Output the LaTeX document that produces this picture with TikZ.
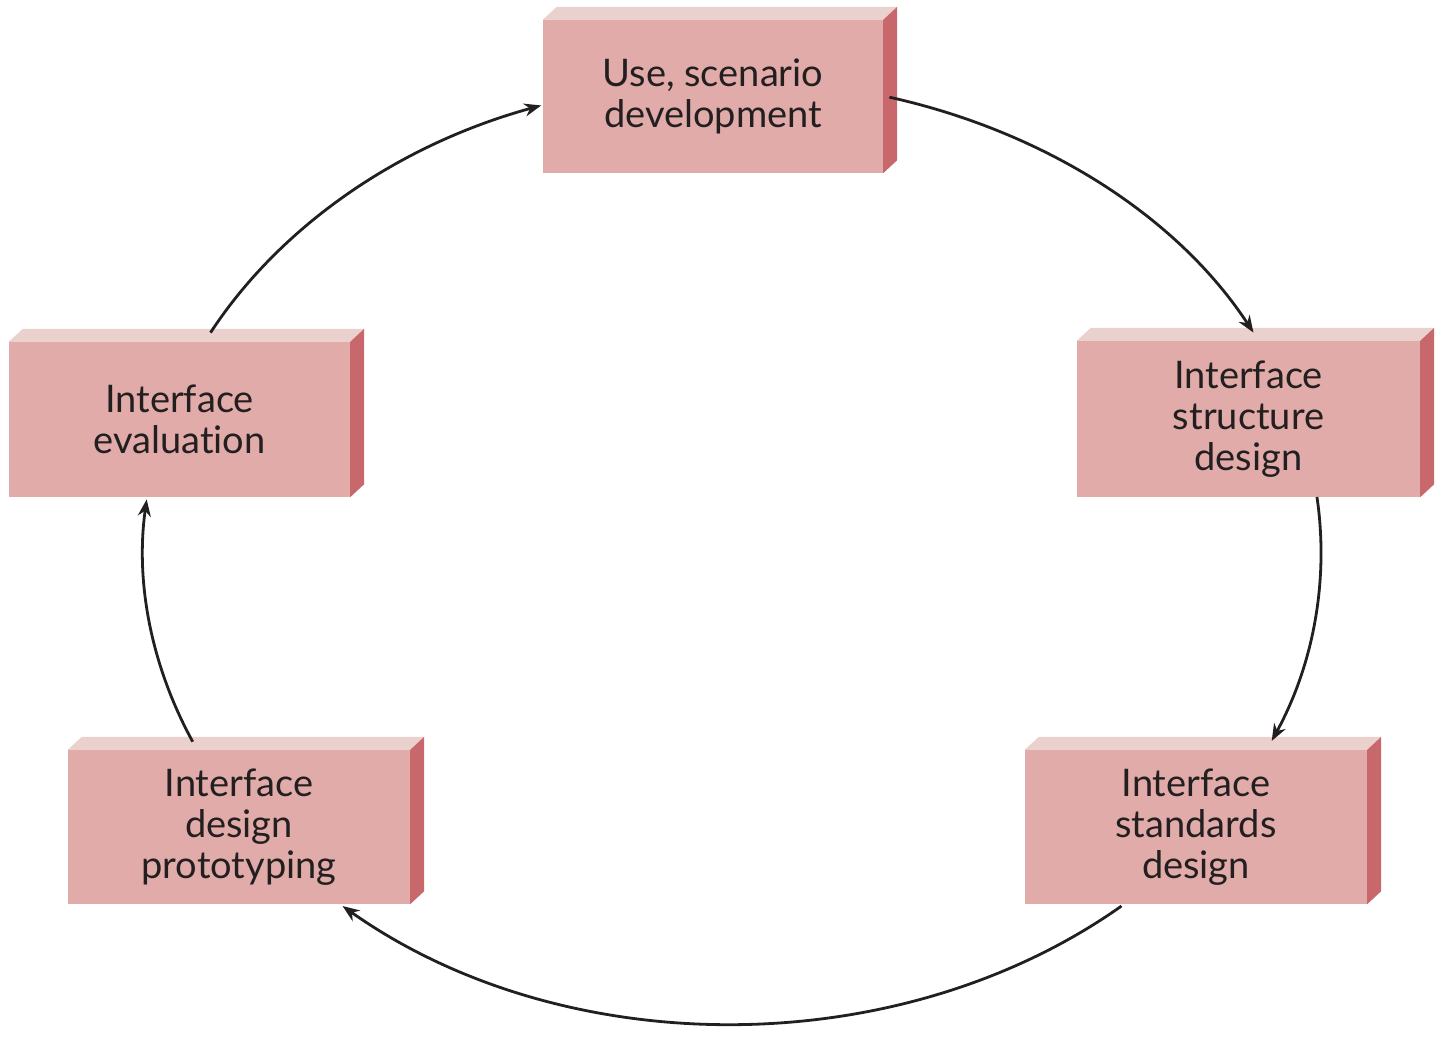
\documentclass[tikz,border=0pt]{standalone}
\usepackage{fontspec}
\setmainfont{Lato}[Ligatures={NoCommon}]
\usetikzlibrary{arrows.meta,calc}
\definecolor{boxfront}{HTML}{E0ABA8}
\definecolor{boxtop}{HTML}{EBD1CD}
\definecolor{boxside}{HTML}{C8686C}
\definecolor{ink}{HTML}{231F20}
\tikzset{
  stagebox/.style={fill=boxfront, draw=none, minimum width=341pt, minimum height=155pt,
    inner sep=0pt, align=center, text=ink,
    font=\fontsize{38}{41}\selectfont},
  flow/.style={draw=ink, line width=2.8pt, -{Stealth[length=17pt,width=13pt]}},
}
\newcommand{\boxfaces}[1]{%
  \fill[boxtop] (#1.north west) -- ++(14,13) -- ($(#1.north east)+(14,13)$) -- (#1.north east) -- cycle;
  \fill[boxside] (#1.north east) -- ++(14,13) -- ($(#1.south east)+(14,13)$) -- (#1.south east) -- cycle;
}
\begin{document}
\begin{tikzpicture}[x=1pt,y=1pt]
\useasboundingbox (0,0) rectangle (1441,1037);
\node[stagebox, minimum width=340pt, minimum height=153pt] (use) at (713,940.5) {Use, scenario\\development};
\node[stagebox, minimum width=343pt, minimum height=156pt] (struct) at (1248.5,618) {Interface\\structure\\design};
\node[stagebox, minimum width=342pt, minimum height=154pt] (stand) at (1196,210) {Interface\\standards\\design};
\node[stagebox, minimum width=342pt, minimum height=154pt] (proto) at (239,210) {Interface\\design\\prototyping};
\node[stagebox] (eval) at (179.5,617.5) {Interface\\evaluation};
\foreach \n in {use,struct,stand,proto,eval} {\boxfaces{\n}}
\coordinate (O) at (732,485);
\coordinate (s1) at ($(O)+(74.5:589 and 472)$);
\coordinate (s2) at ($(O)+(6.7:589 and 472)$);
\coordinate (s3) at ($(O)+(-48.6:589 and 472)$);
\coordinate (s4) at ($(O)+(203.7:589 and 472)$);
\coordinate (s5) at ($(O)+(152.3:589 and 472)$);
\draw[flow] (s1) arc[start angle=74.5, end angle=27.7, x radius=589, y radius=472];
\draw[flow] (s2) arc[start angle=6.7, end angle=-23.6, x radius=589, y radius=472];
\draw[flow] (s3) arc[start angle=-48.6, end angle=-131.4, x radius=589, y radius=472];
\draw[flow] (s4) arc[start angle=203.7, end angle=173.6, x radius=589, y radius=472];
\draw[flow] (s5) arc[start angle=152.3, end angle=108.9, x radius=589, y radius=472];
\end{tikzpicture}
\end{document}
